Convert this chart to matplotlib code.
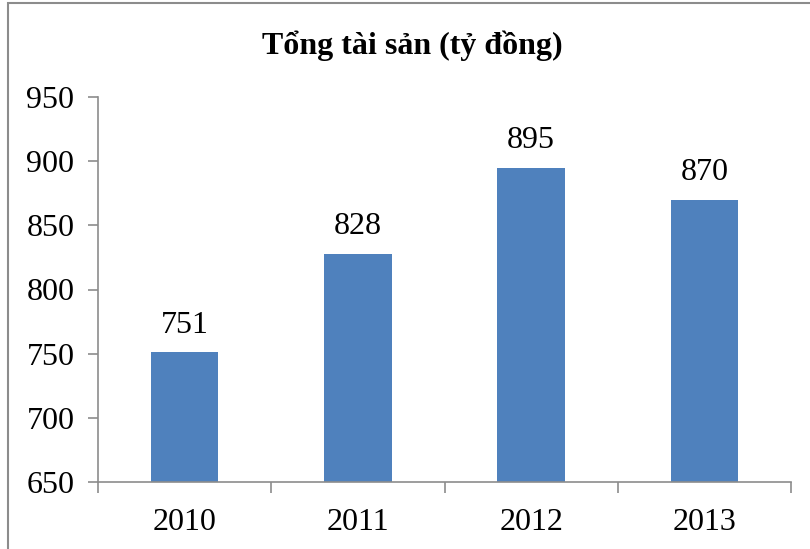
import matplotlib

matplotlib.use("Agg")
import matplotlib.pyplot as plt
from matplotlib.patches import Rectangle

YEARS = ["2010", "2011", "2012", "2013"]
ASSETS = [751, 828, 895, 870]
YTICKS = [650, 700, 750, 800, 850, 900, 950]

plt.rcParams["font.family"] = ["Liberation Serif", "DejaVu Serif"]

W, H = 810, 549
fig = plt.figure(figsize=(W / 100, H / 100), dpi=100)
ax = fig.add_axes([98 / W, 1 - 482 / H, (791 - 98) / W, (482 - 97) / H])

# outer chart-area frame (right and bottom edges fall outside the image)
fig.patches.append(Rectangle((8 / W, -0.1), 1.2, 1 - 3 / H + 0.1,
                             transform=fig.transFigure, fill=False,
                             edgecolor="#8c8c8c", linewidth=1.5))

x = range(len(YEARS))
ax.bar(x, ASSETS, width=0.39, color="#4f81bd")
for xi, v in zip(x, ASSETS):
    ax.annotate(f"{v}", (xi, v), xytext=(0, 9), textcoords="offset points",
                ha="center", va="bottom", fontsize=23)

ax.set_xlim(-0.5, len(YEARS) - 0.5)
ax.set_ylim(650, 950)
ax.set_yticks(YTICKS)
ax.set_yticklabels([str(t) for t in YTICKS], fontsize=23)
ax.set_xticks(list(x))
ax.set_xticklabels(YEARS, fontsize=23)
ax.tick_params(axis="x", length=0, pad=19)
ax.tick_params(axis="y", length=7, width=1.2, color="#8c8c8c", pad=10)
# x ticks at category boundaries
ax.set_xticks([i - 0.5 for i in range(len(YEARS) + 1)], minor=True)
ax.tick_params(axis="x", which="minor", length=8, width=1.2, color="#8c8c8c")

for side in ("top", "right"):
    ax.spines[side].set_visible(False)
for side in ("left", "bottom"):
    ax.spines[side].set_color("#8c8c8c")
    ax.spines[side].set_linewidth(1.2)

fig.text(412 / W, 1 - 46 / H, "Tổng tài sản (tỷ đồng)", ha="center", va="center",
         fontsize=23, fontweight="bold")

fig.savefig("out.png", dpi=100)
